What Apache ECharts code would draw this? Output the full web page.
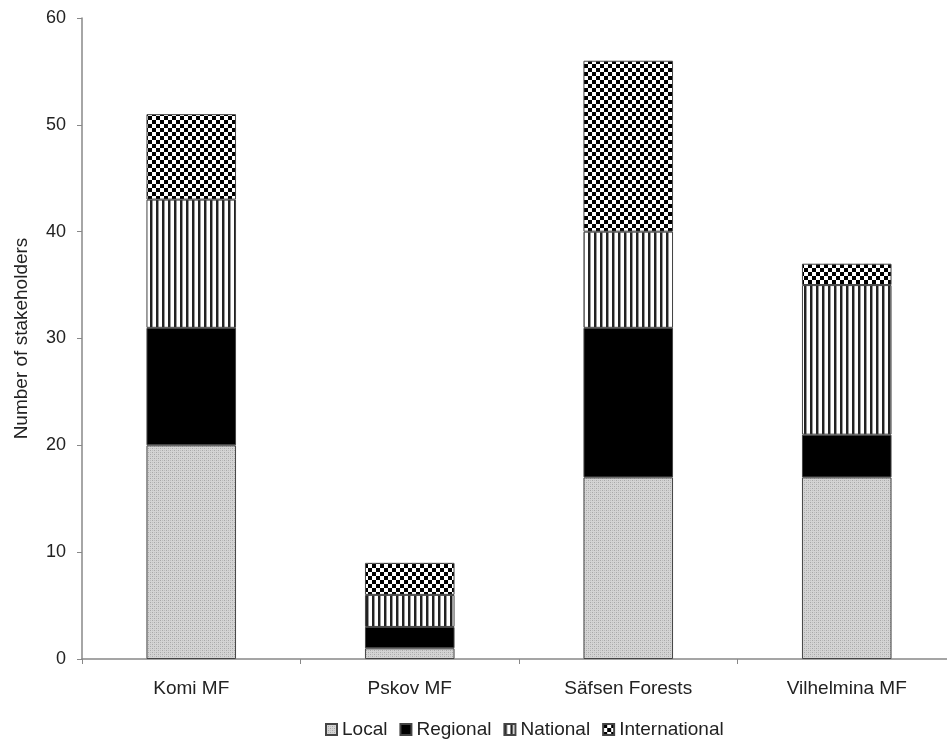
<!DOCTYPE html>
<html><head><meta charset="utf-8">
<script src="https://cdn.jsdelivr.net/npm/echarts@6/dist/echarts.min.js"></script>
<style>html,body{margin:0;padding:0;background:#fff}#c{width:947px;height:746px}</style>
</head><body><div id="c"></div>
<script>
var categories = ['Komi MF', 'Pskov MF', 'Säfsen Forests', 'Vilhelmina MF'];
var local = [20, 1, 17, 17];
var regional = [11, 2, 14, 4];
var national = [12, 3, 9, 14];
var international = [8, 3, 16, 2];
var yTicks = [0, 10, 20, 30, 40, 50, 60];

function pattern(kind) {
  var c = document.createElement('canvas');
  var ctx = c.getContext('2d');
  if (kind === 'local') {
    c.width = 4; c.height = 4;
    ctx.fillStyle = '#d4d4d4'; ctx.fillRect(0, 0, 4, 4);
    ctx.fillStyle = '#a8a8a8';
    ctx.fillRect(0, 0, 1, 1); ctx.fillRect(2, 2, 1, 1);
    ctx.fillStyle = '#bdbdbd';
    ctx.fillRect(2, 0, 1, 1); ctx.fillRect(0, 2, 1, 1);
  } else if (kind === 'national') {
    c.width = 6; c.height = 6;
    ctx.fillStyle = '#ffffff'; ctx.fillRect(0, 0, 6, 6);
    ctx.fillStyle = '#222222'; ctx.fillRect(0, 0, 2, 6);
    ctx.fillStyle = '#999999'; ctx.fillRect(2, 0, 1, 6);
  } else if (kind === 'international') {
    c.width = 8; c.height = 8;
    ctx.fillStyle = '#ffffff'; ctx.fillRect(0, 0, 8, 8);
    ctx.fillStyle = '#000000';
    ctx.fillRect(0, 0, 4, 4); ctx.fillRect(4, 4, 4, 4);
  }
  return { image: c, repeat: 'repeat' };
}

var barStyle = function (color) {
  return { color: color, borderColor: '#444', borderWidth: 1 };
};
var font = 'Liberation Sans';
var chart = echarts.init(document.getElementById('c'), null, { renderer: 'canvas' });
chart.setOption({
  animation: false,
  textStyle: { fontFamily: font },
  grid: { left: 82, width: 874, top: 18, bottom: 87, containLabel: false, outerBoundsMode: 'none' },
  legend: {
    bottom: 2, left: 320,
    itemWidth: 11, itemHeight: 11, itemGap: 12,
    icon: 'rect',
    textStyle: { fontFamily: font, fontSize: 19, color: '#222' },
    data: ['Local', 'Regional', 'National', 'International']
  },
  xAxis: {
    type: 'category', data: categories,
    axisLine: { lineStyle: { color: '#888', width: 1.5 } },
    axisTick: { show: true, length: 5, alignWithLabel: false, lineStyle: { color: '#888' } },
    axisLabel: { fontSize: 19, color: '#222', margin: 20, fontFamily: font }
  },
  yAxis: {
    type: 'value', min: 0, max: 60, interval: 10,
    name: 'Number of stakeholders', nameLocation: 'middle', nameGap: 51,
    nameTextStyle: { fontSize: 19, color: '#222', fontFamily: font },
    axisLine: { show: true, lineStyle: { color: '#888', width: 1.5 } },
    axisTick: { show: true, length: 5, lineStyle: { color: '#888' } },
    axisLabel: { fontSize: 18, color: '#222', margin: 16, fontFamily: font,
      formatter: function (v) { return yTicks.indexOf(v) >= 0 ? String(v) : ''; } },
    splitLine: { show: false }
  },
  series: [
    { name: 'Local', type: 'bar', stack: 's', barWidth: '41%', data: local, itemStyle: barStyle(pattern('local')) },
    { name: 'Regional', type: 'bar', stack: 's', data: regional, itemStyle: barStyle('#000') },
    { name: 'National', type: 'bar', stack: 's', data: national, itemStyle: barStyle(pattern('national')) },
    { name: 'International', type: 'bar', stack: 's', data: international, itemStyle: barStyle(pattern('international')) }
  ]
});
</script></body></html>
